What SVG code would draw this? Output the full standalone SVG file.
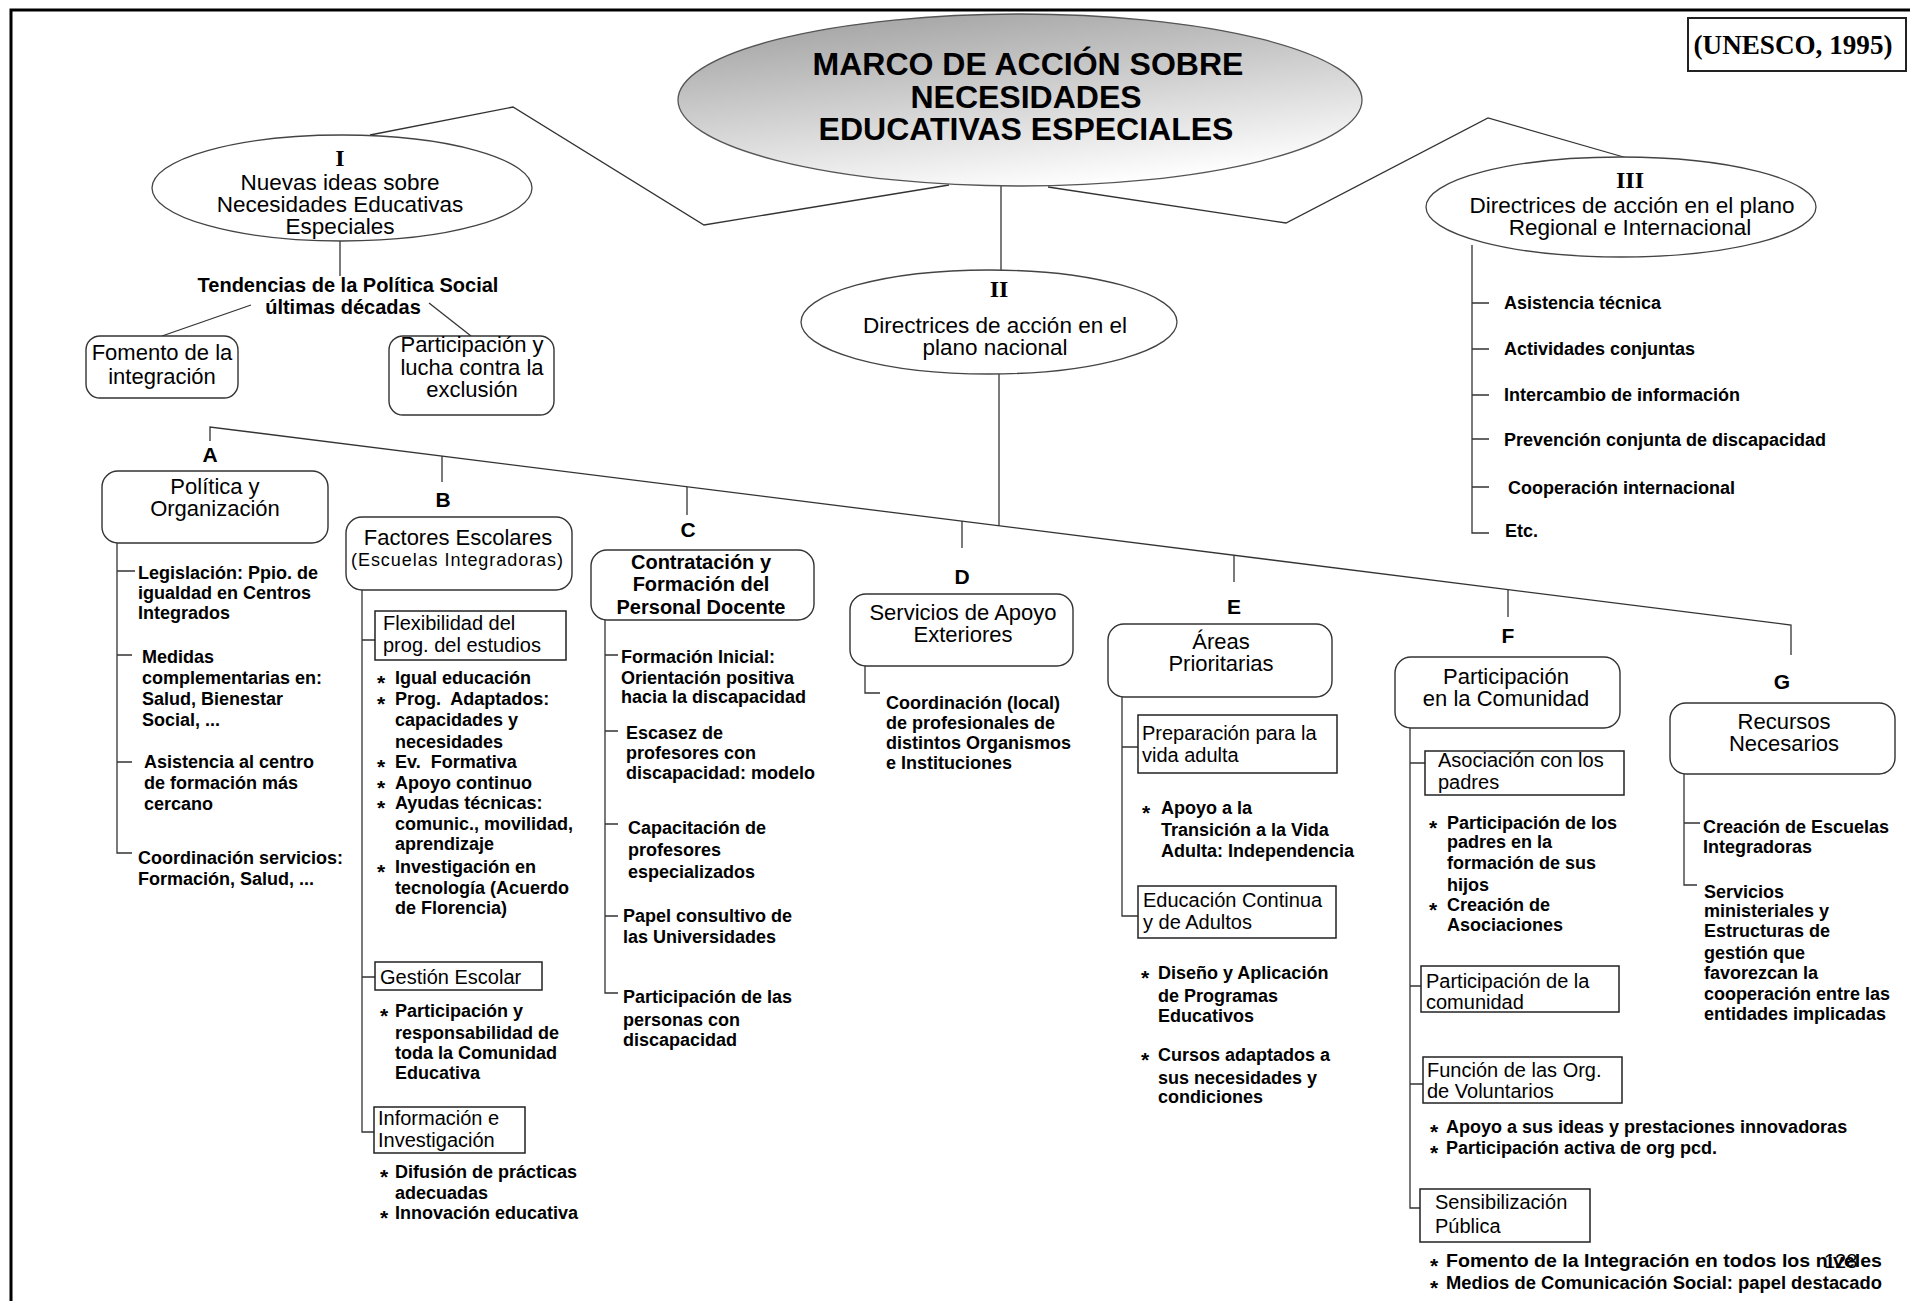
<svg xmlns="http://www.w3.org/2000/svg" width="1910" height="1301" viewBox="0 0 1910 1301">
<defs>
<linearGradient id="gTitle" x1="0.2" y1="0" x2="0.6" y2="1">
<stop offset="0" stop-color="#a2a2a2"/>
<stop offset="1" stop-color="#ffffff"/>
</linearGradient>
<style>
text{font-family:"Liberation Sans",Arial,sans-serif;fill:#000}
.t{font-size:32px;font-weight:bold;text-anchor:middle}
.rn{font-family:"Liberation Serif","Times New Roman",serif;font-size:24px;font-weight:bold;text-anchor:middle}
.el{font-size:22.5px;text-anchor:middle}
.lb{font-size:22px;text-anchor:middle}
.lbb{font-size:20px;font-weight:bold;text-anchor:middle}
.sb{font-size:20px}
.it{font-size:18px;font-weight:bold}
.tc{font-size:20px;font-weight:bold;text-anchor:middle}
.ltr{font-size:21px;font-weight:bold;text-anchor:middle}
.ast{font-size:21px;font-weight:bold}
.node{fill:#fff;stroke:#333;stroke-width:1.4}
.sub{fill:#fff;stroke:#222;stroke-width:1.5}
.ell{fill:#fff;stroke:#444;stroke-width:1.3}
#connectors path,#connectors line,#connectors polyline{fill:none;stroke:#333;stroke-width:1.3}
</style>
</defs>
<rect x="0" y="0" width="1910" height="1301" fill="#fff"/>
<rect x="11" y="10" width="1912" height="1310" fill="none" stroke="#000" stroke-width="3"/>

<g id="connectors">
<polyline points="370,135 513,107 704,225 949,185"/>
<polyline points="1048,187 1286,223 1488,118 1627,158"/>
<line x1="1001" y1="186" x2="1001" y2="270"/>
<line x1="340" y1="241" x2="340" y2="276"/>
<line x1="251" y1="305" x2="162" y2="336"/>
<line x1="429" y1="303" x2="471" y2="336"/>
<line x1="999" y1="374" x2="999" y2="526"/>
<polyline points="210,441 210,427 1791,625 1791,655"/>
<line x1="442" y1="456" x2="442" y2="482"/>
<line x1="687" y1="487" x2="687" y2="515"/>
<line x1="962" y1="521" x2="962" y2="548"/>
<line x1="1234" y1="555" x2="1234" y2="582"/>
<line x1="1508" y1="590" x2="1508" y2="617"/>
<path d="M1472,245 V533 H1489 M1472,303 H1489 M1472,349 H1489 M1472,395 H1489 M1472,439 H1489 M1472,487 H1489"/>
<path d="M117,543 V853 H132 M117,571 H135 M117,655 H132 M117,762 H132"/>
<path d="M362,590 V1132 H374 M362,640 H375 M362,977 H375"/>
<path d="M605,620 V993 H618 M605,655 H618 M605,731 H618 M605,824 H618 M605,916 H618"/>
<path d="M865,666 V693 H880"/>
<path d="M1122,697 V916 H1138 M1122,747 H1138"/>
<path d="M1410,728 V1208 H1420 M1410,763 H1425 M1410,986 H1421 M1410,1084 H1423"/>
<path d="M1684,774 V885 H1697 M1684,823 H1700"/>
</g>

<g id="unesco">
<rect x="1688" y="18" width="218" height="53" fill="#fff" stroke="#222" stroke-width="2"/>
<text x="1793" y="54" font-size="28" font-weight="bold" text-anchor="middle" textLength="199" lengthAdjust="spacingAndGlyphs" style="font-family:'Liberation Serif','Times New Roman',serif">(UNESCO, 1995)</text>
</g>

<g id="title">
<ellipse cx="1020" cy="100" rx="342" ry="86" fill="url(#gTitle)" stroke="#555" stroke-width="1.3"/>
<text class="t" x="1028" y="75">MARCO DE ACCIÓN SOBRE</text>
<text class="t" x="1026" y="108">NECESIDADES</text>
<text class="t" x="1026" y="140">EDUCATIVAS ESPECIALES</text>
</g>

<g id="n-I">
<ellipse class="ell" cx="342" cy="188" rx="190" ry="53"/>
<text class="rn" x="340" y="166">I</text>
<text class="el" x="340" y="190">Nuevas ideas sobre</text>
<text class="el" x="340" y="212">Necesidades Educativas</text>
<text class="el" x="340" y="234">Especiales</text>
</g>

<g id="n-tendencias">
<text class="tc" x="348" y="292">Tendencias de la Política Social</text>
<text class="tc" x="343" y="314">últimas décadas</text>
</g>

<g id="n-fomento">
<rect class="node" x="86" y="336" width="152" height="62" rx="14"/>
<text class="lb" x="162" y="360">Fomento de la</text>
<text class="lb" x="162" y="384">integración</text>
</g>

<g id="n-participacion">
<rect class="node" x="389" y="336" width="165" height="79" rx="14"/>
<text class="lb" x="472" y="352">Participación y</text>
<text class="lb" x="472" y="375">lucha contra la</text>
<text class="lb" x="472" y="397">exclusión</text>
</g>

<g id="n-II">
<ellipse class="ell" cx="989" cy="322" rx="188" ry="52"/>
<text class="rn" x="999" y="297">II</text>
<text class="el" x="995" y="333">Directrices de acción en el</text>
<text class="el" x="995" y="355">plano nacional</text>
</g>

<g id="n-III">
<ellipse class="ell" cx="1621" cy="207" rx="195" ry="50"/>
<text class="rn" x="1630" y="188">III</text>
<text class="el" x="1632" y="213">Directrices de acción en el plano</text>
<text class="el" x="1630" y="235">Regional e Internacional</text>
</g>

<g id="n-III-list">
<text class="it" x="1504" y="309">Asistencia técnica</text>
<text class="it" x="1504" y="355">Actividades conjuntas</text>
<text class="it" x="1504" y="401">Intercambio de información</text>
<text class="it" x="1504" y="446">Prevención conjunta de discapacidad</text>
<text class="it" x="1508" y="494">Cooperación internacional</text>
<text class="it" x="1505" y="537">Etc.</text>
</g>

<g id="letters">
<text class="ltr" x="210" y="462">A</text>
<text class="ltr" x="443" y="507">B</text>
<text class="ltr" x="688" y="537">C</text>
<text class="ltr" x="962" y="584">D</text>
<text class="ltr" x="1234" y="614">E</text>
<text class="ltr" x="1508" y="643">F</text>
<text class="ltr" x="1782" y="689">G</text>
</g>

<g id="n-A">
<rect class="node" x="102" y="471" width="226" height="72" rx="16"/>
<text class="lb" x="215" y="494">Política y</text>
<text class="lb" x="215" y="516">Organización</text>
</g>
<g id="n-A-list">
<text class="it" x="138" y="579">Legislación: Ppio. de</text>
<text class="it" x="138" y="599">igualdad en Centros</text>
<text class="it" x="138" y="619">Integrados</text>
<text class="it" x="142" y="663">Medidas</text>
<text class="it" x="142" y="684">complementarias en:</text>
<text class="it" x="142" y="705">Salud, Bienestar</text>
<text class="it" x="142" y="726">Social, ...</text>
<text class="it" x="144" y="768">Asistencia al centro</text>
<text class="it" x="144" y="789">de formación más</text>
<text class="it" x="144" y="810">cercano</text>
<text class="it" x="138" y="864">Coordinación servicios:</text>
<text class="it" x="138" y="885">Formación, Salud, ...</text>
</g>

<g id="n-B">
<rect class="node" x="346" y="517" width="226" height="73" rx="16"/>
<text class="lb" x="458" y="545">Factores Escolares</text>
<text x="457" y="566" font-size="18" text-anchor="middle" textLength="212" lengthAdjust="spacing">(Escuelas Integradoras)</text>
</g>
<g id="n-B-flex">
<rect class="sub" x="375" y="611" width="191" height="49"/>
<text class="sb" x="383" y="630">Flexibilidad del</text>
<text class="sb" x="383" y="652">prog. del estudios</text>
</g>
<g id="n-B-flex-list">
<text class="ast" x="377" y="690">*</text><text class="it" x="395" y="684">Igual educación</text>
<text class="ast" x="377" y="711">*</text><text class="it" x="395" y="705">Prog.&#160; Adaptados:</text>
<text class="it" x="395" y="726">capacidades y</text>
<text class="it" x="395" y="748">necesidades</text>
<text class="ast" x="377" y="774">*</text><text class="it" x="395" y="768">Ev.&#160; Formativa</text>
<text class="ast" x="377" y="795">*</text><text class="it" x="395" y="789">Apoyo continuo</text>
<text class="ast" x="377" y="815">*</text><text class="it" x="395" y="809">Ayudas técnicas:</text>
<text class="it" x="395" y="830">comunic., movilidad,</text>
<text class="it" x="395" y="850">aprendizaje</text>
<text class="ast" x="377" y="879">*</text><text class="it" x="395" y="873">Investigación en</text>
<text class="it" x="395" y="894">tecnología (Acuerdo</text>
<text class="it" x="395" y="914">de Florencia)</text>
</g>
<g id="n-B-gestion">
<rect class="sub" x="375" y="962" width="167" height="28"/>
<text class="sb" x="380" y="984">Gestión Escolar</text>
</g>
<g id="n-B-gestion-list">
<text class="ast" x="380" y="1023">*</text><text class="it" x="395" y="1017">Participación y</text>
<text class="it" x="395" y="1039">responsabilidad de</text>
<text class="it" x="395" y="1059">toda la Comunidad</text>
<text class="it" x="395" y="1079">Educativa</text>
</g>
<g id="n-B-info">
<rect class="sub" x="374" y="1107" width="151" height="46"/>
<text class="sb" x="378" y="1125">Información e</text>
<text class="sb" x="378" y="1147">Investigación</text>
</g>
<g id="n-B-info-list">
<text class="ast" x="380" y="1184">*</text><text class="it" x="395" y="1178">Difusión de prácticas</text>
<text class="it" x="395" y="1199">adecuadas</text>
<text class="ast" x="380" y="1225">*</text><text class="it" x="395" y="1219">Innovación educativa</text>
</g>

<g id="n-C">
<rect class="node" x="591" y="550" width="223" height="70" rx="16"/>
<text class="lbb" x="701" y="569">Contratación y</text>
<text class="lbb" x="701" y="591">Formación del</text>
<text class="lbb" x="701" y="614">Personal Docente</text>
</g>
<g id="n-C-list">
<text class="it" x="621" y="663">Formación Inicial:</text>
<text class="it" x="621" y="684">Orientación positiva</text>
<text class="it" x="621" y="703">hacia la discapacidad</text>
<text class="it" x="626" y="739">Escasez de</text>
<text class="it" x="626" y="759">profesores con</text>
<text class="it" x="626" y="779">discapacidad: modelo</text>
<text class="it" x="628" y="834">Capacitación de</text>
<text class="it" x="628" y="856">profesores</text>
<text class="it" x="628" y="878">especializados</text>
<text class="it" x="623" y="922">Papel consultivo de</text>
<text class="it" x="623" y="943">las Universidades</text>
<text class="it" x="623" y="1003">Participación de las</text>
<text class="it" x="623" y="1026">personas con</text>
<text class="it" x="623" y="1046">discapacidad</text>
</g>

<g id="n-D">
<rect class="node" x="850" y="594" width="223" height="72" rx="16"/>
<text class="lb" x="963" y="620">Servicios de Apoyo</text>
<text class="lb" x="963" y="642">Exteriores</text>
</g>
<g id="n-D-list">
<text class="it" x="886" y="709">Coordinación (local)</text>
<text class="it" x="886" y="729">de profesionales de</text>
<text class="it" x="886" y="749">distintos Organismos</text>
<text class="it" x="886" y="769">e Instituciones</text>
</g>

<g id="n-E">
<rect class="node" x="1108" y="624" width="224" height="73" rx="16"/>
<text class="lb" x="1221" y="649" font-size="21.5">Áreas</text>
<text class="lb" x="1221" y="671" font-size="21.5">Prioritarias</text>
</g>
<g id="n-E-prep">
<rect class="sub" x="1138" y="715" width="199" height="58"/>
<text class="sb" x="1142" y="740">Preparación para la</text>
<text class="sb" x="1142" y="762">vida adulta</text>
</g>
<g id="n-E-prep-list">
<text class="ast" x="1142" y="820">*</text><text class="it" x="1161" y="814">Apoyo a la</text>
<text class="it" x="1161" y="836">Transición a la Vida</text>
<text class="it" x="1161" y="857">Adulta: Independencia</text>
</g>
<g id="n-E-edu">
<rect class="sub" x="1138" y="886" width="198" height="52"/>
<text class="sb" x="1143" y="907">Educación Continua</text>
<text class="sb" x="1143" y="929">y de Adultos</text>
</g>
<g id="n-E-edu-list">
<text class="ast" x="1141" y="985">*</text><text class="it" x="1158" y="979">Diseño y Aplicación</text>
<text class="it" x="1158" y="1002">de Programas</text>
<text class="it" x="1158" y="1022">Educativos</text>
<text class="ast" x="1141" y="1067">*</text><text class="it" x="1158" y="1061">Cursos adaptados a</text>
<text class="it" x="1158" y="1084">sus necesidades y</text>
<text class="it" x="1158" y="1103">condiciones</text>
</g>

<g id="n-F">
<rect class="node" x="1395" y="657" width="225" height="71" rx="16"/>
<text class="lb" x="1506" y="684">Participación</text>
<text class="lb" x="1506" y="706">en la Comunidad</text>
</g>
<g id="n-F-asoc">
<rect class="sub" x="1425" y="751" width="199" height="44"/>
<text class="sb" x="1438" y="767" font-size="19">Asociación con los</text>
<text class="sb" x="1438" y="789" font-size="19">padres</text>
</g>
<g id="n-F-asoc-list">
<text class="ast" x="1429" y="835">*</text><text class="it" x="1447" y="829">Participación de los</text>
<text class="it" x="1447" y="848">padres en la</text>
<text class="it" x="1447" y="869">formación de sus</text>
<text class="it" x="1447" y="891">hijos</text>
<text class="ast" x="1429" y="917">*</text><text class="it" x="1447" y="911">Creación de</text>
<text class="it" x="1447" y="931">Asociaciones</text>
</g>
<g id="n-F-com">
<rect class="sub" x="1421" y="966" width="198" height="46"/>
<text class="sb" x="1426" y="988">Participación de la</text>
<text class="sb" x="1426" y="1009">comunidad</text>
</g>
<g id="n-F-vol">
<rect class="sub" x="1423" y="1057" width="199" height="46"/>
<text class="sb" x="1427" y="1077">Función de las Org.</text>
<text class="sb" x="1427" y="1098">de Voluntarios</text>
</g>
<g id="n-F-vol-list">
<text class="ast" x="1430" y="1139">*</text><text class="it" x="1446" y="1133">Apoyo a sus ideas y prestaciones innovadoras</text>
<text class="ast" x="1430" y="1160">*</text><text class="it" x="1446" y="1154">Participación activa de org pcd.</text>
</g>
<g id="n-F-sens">
<rect class="sub" x="1420" y="1189" width="170" height="53"/>
<text class="sb" x="1435" y="1209">Sensibilización</text>
<text class="sb" x="1435" y="1233">Pública</text>
</g>
<g id="n-F-sens-list">
<text class="ast" x="1430" y="1273">*</text><text class="it" x="1446" y="1267" textLength="436" lengthAdjust="spacingAndGlyphs">Fomento de la Integración en todos los niveles</text>
<text class="ast" x="1430" y="1295">*</text><text class="it" x="1446" y="1289" textLength="436" lengthAdjust="spacingAndGlyphs">Medios de Comunicación Social: papel destacado</text>
</g>

<g id="n-G">
<rect class="node" x="1670" y="703" width="225" height="71" rx="16"/>
<text class="lb" x="1784" y="729" font-size="21.5">Recursos</text>
<text class="lb" x="1784" y="751" font-size="21.5">Necesarios</text>
</g>
<g id="n-G-list">
<text class="it" x="1703" y="833">Creación de Escuelas</text>
<text class="it" x="1703" y="853">Integradoras</text>
<text class="it" x="1704" y="898">Servicios</text>
<text class="it" x="1704" y="917">ministeriales y</text>
<text class="it" x="1704" y="937">Estructuras de</text>
<text class="it" x="1704" y="959">gestión que</text>
<text class="it" x="1704" y="979">favorezcan la</text>
<text class="it" x="1704" y="1000">cooperación entre las</text>
<text class="it" x="1704" y="1020">entidades implicadas</text>
</g>

<g id="pagenum">
<text x="1824" y="1268" font-size="20">128</text>
</g>
</svg>
